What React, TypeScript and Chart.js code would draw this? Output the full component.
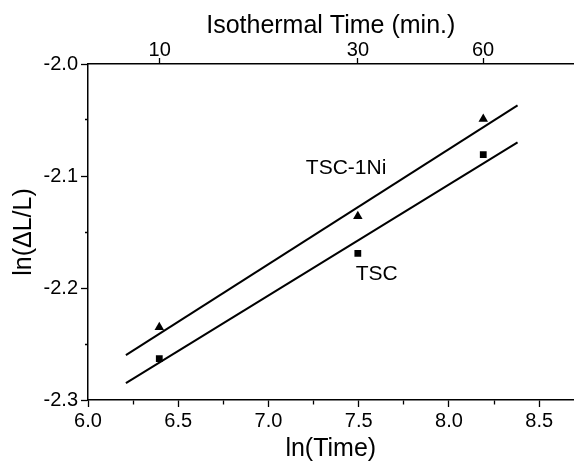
import React, { useEffect, useRef } from "react";
import { Chart, registerables } from "chart.js";

Chart.register(...registerables);

// ln(time in seconds) of the measured points
const lnTime = [6.395, 7.495, 8.19];
const tscNi = [-2.235, -2.136, -2.049];
const tsc = [-2.263, -2.169, -2.081];

// fitted lines (end points)
const fitX = [6.21, 8.38];
const fitNi = [-2.26, -2.037];
const fitTsc = [-2.285, -2.07];

// top axis: isothermal time in minutes
const topMinutes = [10, 30, 60];

// bottom ticks and left ticks
const xTicks = [6.0, 6.25, 6.5, 6.75, 7.0, 7.25, 7.5, 7.75, 8.0, 8.25, 8.5];
const yTicks = [-2.3, -2.25, -2.2, -2.15, -2.1, -2.05, -2.0];

// text labels placed in data coordinates
const labelTexts = ["TSC-1Ni", "TSC"];
const labelX = [7.43, 7.6];
const labelY = [-2.093, -2.188];

const FONT = "'Liberation Sans', Arial, Helvetica, sans-serif";

export default function App() {
  const ref = useRef<HTMLCanvasElement | null>(null);

  useEffect(() => {
    const canvas = ref.current;
    if (!canvas) return;

    const textPlugin = {
      id: "textLabels",
      afterDatasetsDraw(chart: any) {
        const { ctx } = chart;
        const xs = chart.scales.x;
        const ys = chart.scales.y;
        ctx.save();
        ctx.fillStyle = "#000";
        ctx.font = `21px ${FONT}`;
        ctx.textAlign = "center";
        ctx.textBaseline = "middle";
        labelTexts.forEach((t, i) => {
          ctx.fillText(t, xs.getPixelForValue(labelX[i]), ys.getPixelForValue(labelY[i]));
        });
        ctx.restore();
      },
    };

    const isMajor = (v: number, step: number) =>
      Math.abs(v / step - Math.round(v / step)) < 1e-6;

    const chart = new Chart(canvas, {
      type: "scatter",
      data: {
        datasets: [
          {
            label: "TSC-1Ni fit",
            data: fitX.map((x, i) => ({ x, y: fitNi[i] })),
            showLine: true,
            borderColor: "#000",
            borderWidth: 2,
            pointRadius: 0,
          },
          {
            label: "TSC fit",
            data: fitX.map((x, i) => ({ x, y: fitTsc[i] })),
            showLine: true,
            borderColor: "#000",
            borderWidth: 2,
            pointRadius: 0,
          },
          {
            label: "TSC-1Ni",
            data: lnTime.map((x, i) => ({ x, y: tscNi[i] })),
            pointStyle: "triangle",
            pointRadius: 5.5,
            backgroundColor: "#000",
            borderColor: "#000",
            borderWidth: 0,
          },
          {
            label: "TSC",
            data: lnTime.map((x, i) => ({ x, y: tsc[i] })),
            pointStyle: "rect",
            pointRadius: 4.8,
            backgroundColor: "#000",
            borderColor: "#000",
            borderWidth: 0,
          },
        ],
      },
      options: {
        responsive: false,
        animation: false,
        devicePixelRatio: 1,
        layout: { padding: 0 },
        plugins: {
          legend: { display: false },
          tooltip: { enabled: false },
        },
        scales: {
          x: {
            type: "linear",
            position: "bottom",
            min: 6.0,
            max: 8.69,
            afterBuildTicks: (scale: any) => {
              scale.ticks = xTicks.map((v) => ({ value: v }));
            },
            afterFit: (scale: any) => {
              scale.height = 62;
            },
            ticks: {
              color: "#000",
              font: { family: FONT, size: 20, lineHeight: 1 },
              padding: 4,
              maxRotation: 0,
              autoSkip: false,
              callback: (v: any) => (isMajor(Number(v), 0.5) ? Number(v).toFixed(1) : ""),
            },
            grid: {
              display: true,
              drawOnChartArea: false,
              drawTicks: true,
              tickLength: 7,
              tickColor: "#000",
              tickWidth: 1.3,
              tickBorderDash: (ctx: any) =>
                ctx.tick && !isMajor(ctx.tick.value, 0.5) ? [4, 100] : [],
            },
            border: { display: true, color: "#000", width: 1.5 },
            title: {
              display: true,
              text: "ln(Time)",
              color: "#000",
              font: { family: FONT, size: 25, lineHeight: 1 },
              padding: { top: 0, bottom: 0 },
            },
          },
          x2: {
            type: "linear",
            position: "top",
            min: 6.0,
            max: 8.69,
            afterBuildTicks: (scale: any) => {
              scale.ticks = topMinutes.map((m) => ({ value: Math.log(m * 60) }));
            },
            afterFit: (scale: any) => {
              scale.height = 64;
            },
            ticks: {
              color: "#000",
              font: { family: FONT, size: 20, lineHeight: 1 },
              padding: -2,
              maxRotation: 0,
              autoSkip: false,
              callback: (v: any) => String(Math.round(Math.exp(Number(v)) / 60)),
            },
            grid: {
              display: true,
              drawOnChartArea: false,
              drawTicks: true,
              tickLength: 6,
              tickColor: "#000",
              tickWidth: 1.3,
            },
            border: { display: true, color: "#000", width: 1.5 },
            title: {
              display: true,
              text: "Isothermal Time (min.)",
              color: "#000",
              font: { family: FONT, size: 25, lineHeight: 1 },
              padding: { top: 14, bottom: 0 },
            },
          },
          y: {
            type: "linear",
            position: "left",
            min: -2.3,
            max: -2.0,
            afterBuildTicks: (scale: any) => {
              scale.ticks = yTicks.map((v) => ({ value: v }));
            },
            afterFit: (scale: any) => {
              scale.width = 88;
            },
            ticks: {
              color: "#000",
              font: { family: FONT, size: 20, lineHeight: 1 },
              padding: 3,
              autoSkip: false,
              callback: (v: any) => (isMajor(Number(v), 0.1) ? Number(v).toFixed(1) : ""),
            },
            grid: {
              display: true,
              drawOnChartArea: false,
              drawTicks: true,
              tickLength: 7,
              tickColor: "#000",
              tickWidth: 1.3,
              tickBorderDash: (ctx: any) =>
                ctx.tick && !isMajor(ctx.tick.value, 0.1) ? [0, 4, 3, 100] : [],
            },
            border: { display: true, color: "#000", width: 1.5 },
            title: {
              display: true,
              text: "ln(\u0394L/L)",
              color: "#000",
              font: { family: FONT, size: 25, lineHeight: 1 },
              padding: { top: 12, bottom: 0 },
            },
          },
        },
      },
      plugins: [textPlugin],
    } as any);

    return () => chart.destroy();
  }, []);

  return (
    <div style={{ position: "absolute", left: 0, top: 0, width: 579, height: 462, background: "#fff" }}>
      <canvas ref={ref} width={579} height={462} style={{ display: "block" }} />
    </div>
  );
}
